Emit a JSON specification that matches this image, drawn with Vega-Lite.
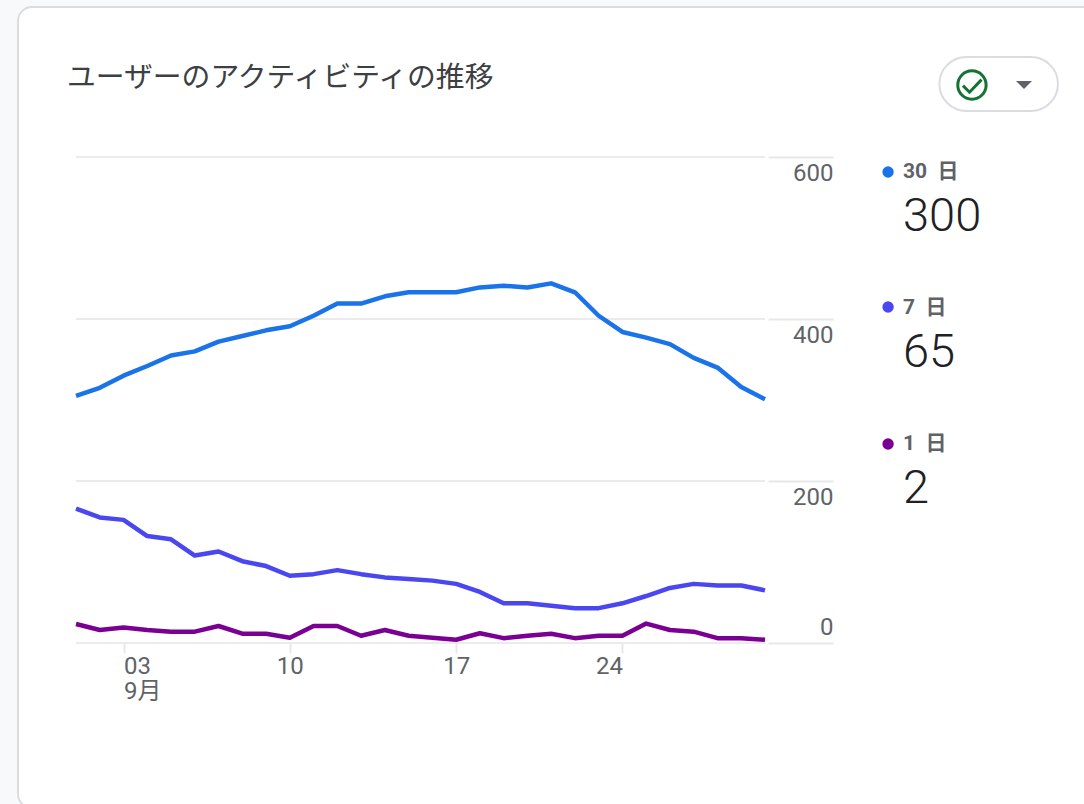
{
"$schema":"https://vega.github.io/schema/vega-lite/v6.json",
"width":689,"height":486,
"autosize":{"type":"none"},
"padding":{"left":76,"top":157,"right":319,"bottom":161},
"background":"#f8f9fa",
"config":{"view":{"stroke":null},"font":"Roboto"},
"resolve":{"axis":{"x":"independent","y":"independent"}},
"datasets":{
"card":[{"x":-1.44,"x2":48.3,"y":785.2,"y2":-203.7}],
"pill":[{"x":37.34,"x2":42.33,"y":723.5,"y2":656.8}],
"grid":[{"x":1,"x2":30,"v":600},{"x":1,"x2":30,"v":400},{"x":1,"x2":30,"v":200},{"x":1,"x2":30,"v":0}],
"legend":[
{"x":35.18,"xl":35.81,"yd":581.5,"yl":582.0,"yv":526.0,"label":"30\u00a0\u00a0日","val":"300","series":"30 日"},
{"x":35.18,"xl":35.81,"yd":414.8,"yl":414.0,"yv":358.0,"label":"7\u00a0\u00a0日","val":"65","series":"7 日"},
{"x":35.18,"xl":35.81,"yd":245.7,"yl":246.0,"yv":190.0,"label":"1\u00a0\u00a0日","val":"2","series":"1 日"}],
"lines":[
{"day":1,"series":"30 日","value":305},{"day":2,"series":"30 日","value":315},{"day":3,"series":"30 日","value":330},{"day":4,"series":"30 日","value":342},{"day":5,"series":"30 日","value":355},{"day":6,"series":"30 日","value":360},{"day":7,"series":"30 日","value":372},{"day":8,"series":"30 日","value":379},{"day":9,"series":"30 日","value":386},{"day":10,"series":"30 日","value":391},{"day":11,"series":"30 日","value":404},{"day":12,"series":"30 日","value":419},{"day":13,"series":"30 日","value":419},{"day":14,"series":"30 日","value":428},{"day":15,"series":"30 日","value":433},{"day":16,"series":"30 日","value":433},{"day":17,"series":"30 日","value":433},{"day":18,"series":"30 日","value":439},{"day":19,"series":"30 日","value":441},{"day":20,"series":"30 日","value":439},{"day":21,"series":"30 日","value":444},{"day":22,"series":"30 日","value":433},{"day":23,"series":"30 日","value":404},{"day":24,"series":"30 日","value":384},{"day":25,"series":"30 日","value":377},{"day":26,"series":"30 日","value":369},{"day":27,"series":"30 日","value":352},{"day":28,"series":"30 日","value":340},{"day":29,"series":"30 日","value":316},{"day":30,"series":"30 日","value":301},
{"day":1,"series":"7 日","value":166},{"day":2,"series":"7 日","value":155},{"day":3,"series":"7 日","value":152},{"day":4,"series":"7 日","value":132},{"day":5,"series":"7 日","value":128},{"day":6,"series":"7 日","value":108},{"day":7,"series":"7 日","value":113},{"day":8,"series":"7 日","value":101},{"day":9,"series":"7 日","value":95},{"day":10,"series":"7 日","value":83},{"day":11,"series":"7 日","value":85},{"day":12,"series":"7 日","value":90},{"day":13,"series":"7 日","value":85},{"day":14,"series":"7 日","value":81},{"day":15,"series":"7 日","value":79},{"day":16,"series":"7 日","value":77},{"day":17,"series":"7 日","value":73},{"day":18,"series":"7 日","value":63},{"day":19,"series":"7 日","value":49},{"day":20,"series":"7 日","value":49},{"day":21,"series":"7 日","value":46},{"day":22,"series":"7 日","value":43},{"day":23,"series":"7 日","value":43},{"day":24,"series":"7 日","value":49},{"day":25,"series":"7 日","value":58},{"day":26,"series":"7 日","value":68},{"day":27,"series":"7 日","value":73},{"day":28,"series":"7 日","value":71},{"day":29,"series":"7 日","value":71},{"day":30,"series":"7 日","value":65},
{"day":1,"series":"1 日","value":23.5},{"day":2,"series":"1 日","value":16},{"day":3,"series":"1 日","value":19},{"day":4,"series":"1 日","value":16},{"day":5,"series":"1 日","value":14},{"day":6,"series":"1 日","value":14},{"day":7,"series":"1 日","value":21},{"day":8,"series":"1 日","value":11.5},{"day":9,"series":"1 日","value":11.5},{"day":10,"series":"1 日","value":6.5},{"day":11,"series":"1 日","value":21},{"day":12,"series":"1 日","value":21},{"day":13,"series":"1 日","value":9},{"day":14,"series":"1 日","value":16},{"day":15,"series":"1 日","value":9},{"day":16,"series":"1 日","value":6.5},{"day":17,"series":"1 日","value":4},{"day":18,"series":"1 日","value":12},{"day":19,"series":"1 日","value":6},{"day":20,"series":"1 日","value":9},{"day":21,"series":"1 日","value":11.5},{"day":22,"series":"1 日","value":6},{"day":23,"series":"1 日","value":9},{"day":24,"series":"1 日","value":9},{"day":25,"series":"1 日","value":24},{"day":26,"series":"1 日","value":16},{"day":27,"series":"1 日","value":14},{"day":28,"series":"1 日","value":6},{"day":29,"series":"1 日","value":6},{"day":30,"series":"1 日","value":4}
]},
"layer":[
{"data":{"name":"card"},"mark":{"type":"rect","fill":"#ffffff","stroke":"#dadce0","strokeWidth":2,"cornerRadius":14},
 "encoding":{"x":{"field":"x","type":"quantitative","scale":{"domain":[1,30],"nice":false,"zero":false},"axis":null},"x2":{"field":"x2"},"y":{"field":"y","type":"quantitative","scale":{"domain":[0,600],"nice":false},"axis":null},"y2":{"field":"y2"}}},
{"data":{"name":"grid"},"mark":{"type":"rule","stroke":"#ebebeb","strokeWidth":2},
 "encoding":{"x":{"field":"x","type":"quantitative","axis":null},"x2":{"field":"x2"},"y":{"field":"v","type":"quantitative","axis":null}}},
{"data":{"name":"lines"},"mark":{"type":"line","strokeWidth":4.5,"strokeJoin":"round","strokeCap":"butt","interpolate":"linear"},
 "encoding":{
  "x":{"field":"day","type":"quantitative","axis":{"title":null,"values":[3,10,17,24],"grid":false,"domain":false,"tickColor":"#e8e8e8","tickWidth":2,"tickSize":10,"labelFont":"Roboto, Noto Sans CJK JP","labelFontSize":24,"labelColor":"#5f6368","labelPadding":1,"labelLineHeight":25,"labelOverlap":false,"labelBound":false,"labelFlush":false,"zindex":1,"labelExpr":"datum.value==3?['03','9月']:''+datum.value","labelBaseline":"top","labelAlign":{"condition":[{"test":"datum.value==3","value":"left"},{"test":"datum.value==24","value":"right"}],"value":"center"}}},
  "y":{"field":"value","type":"quantitative","axis":{"title":null,"orient":"right","values":[0,200,400,600],"grid":false,"domain":false,"offset":3,"tickColor":"#e8e8e8","tickWidth":2,"tickSize":65,"labelPadding":0,"labelAlign":"right","labelFontSize":24,"labelColor":"#5f6368","labelOverlap":false,"labelBound":false,"labelFlush":false,"zindex":1,"labelBaseline":"middle","labelOffset":{"condition":{"test":"datum.value==0","value":-16},"value":16}}},
  "color":{"field":"series","type":"nominal","legend":null,"scale":{"domain":["30 日","7 日","1 日"],"range":["#1a73e8","#4a47f0","#7a0094"]}},
  "detail":{"field":"series"}}},
{"data":{"name":"legend"},"mark":{"type":"point","shape":"circle","filled":true,"size":130,"opacity":1},
 "encoding":{"x":{"field":"x","type":"quantitative","axis":null},"y":{"field":"yd","type":"quantitative","axis":null},"color":{"field":"series","type":"nominal","legend":null}}},
{"data":{"name":"legend"},"mark":{"type":"text","align":"left","baseline":"middle","font":"Roboto, Noto Sans CJK JP","fontSize":21,"fontWeight":"bold","fill":"#5f6368"},
 "encoding":{"x":{"field":"xl","type":"quantitative","axis":null},"y":{"field":"yl","type":"quantitative","axis":null},"text":{"field":"label"}}},
{"data":{"name":"legend"},"mark":{"type":"text","align":"left","baseline":"middle","font":"Roboto","fontSize":47,"fontWeight":300,"fill":"#202124"},
 "encoding":{"x":{"field":"xl","type":"quantitative","axis":null},"y":{"field":"yv","type":"quantitative","axis":null},"text":{"field":"val"}}},
{"data":{"values":[{"x":0.62,"y":698,"t":"ユーザーのアクティビティの推移"}]},"mark":{"type":"text","align":"left","baseline":"middle","font":"Noto Sans CJK JP","fontSize":28.8,"fill":"#3c4043"},
 "encoding":{"x":{"field":"x","type":"quantitative","axis":null},"y":{"field":"y","type":"quantitative","axis":null},"text":{"field":"t"}}},
{"data":{"name":"pill"},"mark":{"type":"rect","fill":"#ffffff","stroke":"#dadce0","strokeWidth":2,"cornerRadius":27},
 "encoding":{"x":{"field":"x","type":"quantitative","axis":null},"x2":{"field":"x2"},"y":{"field":"y","type":"quantitative","axis":null},"y2":{"field":"y2"}}},
{"data":{"values":[{"x":38.71,"y":688.9}]},"mark":{"type":"point","shape":"circle","filled":false,"stroke":"#137333","strokeWidth":3,"size":804,"opacity":1},
 "encoding":{"x":{"field":"x","type":"quantitative","axis":null},"y":{"field":"y","type":"quantitative","axis":null}}},
{"data":{"values":[{"x":38.71,"y":688.9}]},"mark":{"type":"point","shape":"M-0.75,0.05L-0.2,0.6L0.8,-0.45","filled":false,"stroke":"#137333","strokeWidth":3,"size":576,"opacity":1},
 "encoding":{"x":{"field":"x","type":"quantitative","axis":null},"y":{"field":"y","type":"quantitative","axis":null}}},
{"data":{"values":[{"x":40.9,"y":688.9}]},"mark":{"type":"point","shape":"M-1,-0.5L1,-0.5L0,0.5Z","filled":true,"fill":"#5f6368","size":256,"opacity":1},
 "encoding":{"x":{"field":"x","type":"quantitative","axis":null},"y":{"field":"y","type":"quantitative","axis":null}}}
]
}
